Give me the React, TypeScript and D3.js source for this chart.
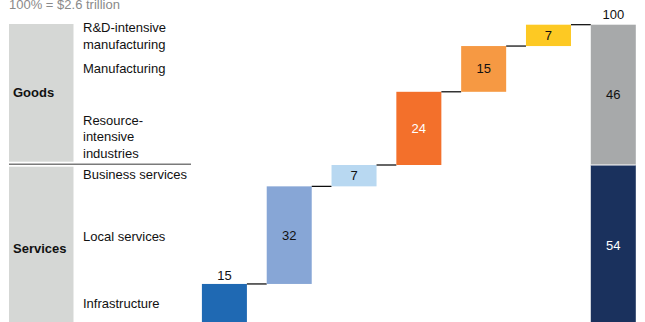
import React from "react";
import * as d3 from "d3";

const categories = [
  "Infrastructure",
  "Local services",
  "Business services",
  "Resource-intensive industries",
  "Manufacturing",
  "R&D-intensive manufacturing",
];
const values = [15, 32, 7, 24, 15, 7];
const barColors = ["#1f69b3", "#87a6d6", "#b8d8f1", "#f3702b", "#f69943", "#fdc923"];
const labelColors = ["#111", "#111", "#111", "#fff", "#111", "#111"];
const labelLines = [
  ["Infrastructure"],
  ["Local services"],
  ["Business services"],
  ["Resource-", "intensive", "industries"],
  ["Manufacturing"],
  ["R&D-intensive", "manufacturing"],
];
const groups = ["Services", "Goods"];
const groupValues = [54, 46];
const groupColors = ["#1a315d", "#a7a9aa"];
const groupLabelColors = ["#fff", "#111"];
const totalLabel = "100";
const title = "100% = $2.6 trillion";

const W = 645;
const H = 322;
const FONT = "'Liberation Sans', Arial, sans-serif";

export default function App() {
  const keys = [...categories, "Total"];
  const x = d3
    .scaleBand<string>()
    .domain(keys)
    .range([192, 645.7])
    .paddingInner(0.3056)
    .paddingOuter(0.1528);
  const y = d3.scaleLinear().domain([0, 100]).range([329.7, 24.7]);

  const cum = d3.cumsum(values);
  const starts = values.map((v, i) => cum[i] - v);
  const total = d3.sum(values);
  const goodsTop = y(total);
  const split = y(groupValues[0]);

  // label vertical offsets relative to bar centre (layout only)
  const labelShift = [-3.5, 1, -1, 8.5, -0.5, 0.5];
  const lineH = 16.5;

  return (
    <svg
      width={W}
      height={H}
      style={{ position: "absolute", left: 0, top: 0, fontFamily: FONT }}
    >
      <rect width={W} height={H} fill="#fff" />
      <text x={9} y={9} fontSize={13} fill="#8a8a8a">
        {title}
      </text>

      {/* group boxes */}
      <rect x={9} y={goodsTop - 0.7} width={64.5} height={split - 3.3 - goodsTop + 0.7} fill="#d5d7d5" />
      <rect x={9} y={split + 1.7} width={64.5} height={H - split} fill="#d5d7d5" />
      <line x1={9} x2={191} y1={split - 0.7} y2={split - 0.7} stroke="#7a7a7a" strokeWidth={1.5} />
      <text x={13} y={(goodsTop + split) / 2 - 2} dy="0.35em" fontSize={13} fontWeight="bold" fill="#111">
        Goods
      </text>
      <text x={13} y={248} dy="0.35em" fontSize={13} fontWeight="bold" fill="#111">
        Services
      </text>

      {/* category labels */}
      {categories.map((c, i) => {
        const lines = labelLines[i];
        const mid = (y(starts[i]) + y(cum[i])) / 2 + labelShift[i];
        const first = mid - ((lines.length - 1) * lineH) / 2;
        return (
          <text key={c} x={83} fontSize={13} fill="#111">
            {lines.map((l, j) => (
              <tspan key={j} x={83} y={first + j * lineH} dy="0.35em">
                {l}
              </tspan>
            ))}
          </text>
        );
      })}

      {/* waterfall bars */}
      {categories.map((c, i) => {
        const x0 = x(c)!;
        const top = y(cum[i]);
        const bot = y(starts[i]);
        const inside = i !== 0;
        return (
          <g key={c}>
            <rect x={x0} y={top} width={x.bandwidth()} height={bot - top} fill={barColors[i]} />
            <text
              x={x0 + x.bandwidth() / 2}
              y={inside ? (top + bot) / 2 : top - 9}
              dy="0.35em"
              textAnchor="middle"
              fontSize={13}
              fill={inside ? labelColors[i] : "#111"}
            >
              {values[i]}
            </text>
            <line
              x1={x0 + x.bandwidth()}
              x2={x(keys[i + 1])!}
              y1={top}
              y2={top}
              stroke="#000"
              strokeWidth={1.2}
            />
          </g>
        );
      })}

      {/* total stacked bar */}
      {groups.map((g, i) => {
        const b = i === 0 ? 0 : groupValues[0];
        const t = b + groupValues[i];
        const top = y(t);
        const bot = y(b);
        return (
          <g key={g}>
            <rect x={x("Total")!} y={top} width={x.bandwidth()} height={bot - top} fill={groupColors[i]} />
            <text
              x={x("Total")! + x.bandwidth() / 2}
              y={(top + bot) / 2 - (i === 0 ? 2 : 0)}
              dy="0.35em"
              textAnchor="middle"
              fontSize={13}
              fill={groupLabelColors[i]}
            >
              {groupValues[i]}
            </text>
          </g>
        );
      })}
      <line x1={x("Total")!} x2={x("Total")! + x.bandwidth()} y1={split} y2={split} stroke="#fff" strokeWidth={1.2} />
      <text
        x={x("Total")! + x.bandwidth() / 2}
        y={goodsTop - 10}
        dy="0.35em"
        textAnchor="middle"
        fontSize={13}
        fill="#111"
      >
        {totalLabel}
      </text>
    </svg>
  );
}
